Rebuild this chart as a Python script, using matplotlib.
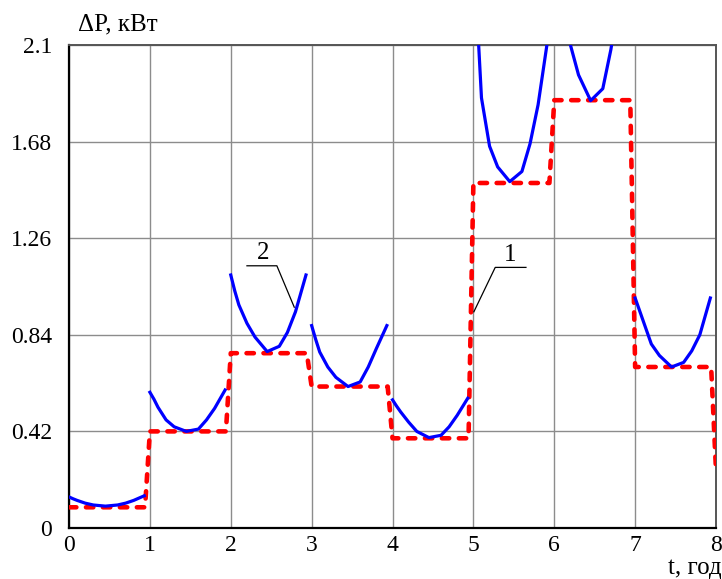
import matplotlib.pyplot as plt

# hourly levels of the step curve (1), kW
hours = [0, 1, 2, 3, 4, 5, 6, 7]
red_levels = [0.09, 0.42, 0.76, 0.615, 0.39, 1.50, 1.86, 0.70]
red_end = 0.25

# curve (2): samples inside each hour (offset from the hour start, h)
blue_offsets = [0, 0.05, 0.10, 0.20, 0.30, 0.45, 0.60, 0.70, 0.80, 0.93]
blue_h0 = [0.135, 0.127, 0.12, 0.108, 0.10, 0.095, 0.10, 0.108, 0.12, 0.14]
blue_h1 = [0.59, 0.56, 0.525, 0.47, 0.44, 0.42, 0.43, 0.47, 0.52, 0.60]
blue_h2 = [1.10, 1.03, 0.97, 0.89, 0.83, 0.767, 0.79, 0.85, 0.94, 1.10]
blue_h3 = [0.88, 0.82, 0.765, 0.70, 0.655, 0.615, 0.635, 0.70, 0.78, 0.88]
blue_h4 = [0.557, 0.53, 0.505, 0.46, 0.42, 0.393, 0.403, 0.44, 0.49, 0.564]
blue_h5 = [2.48, 2.20, 1.87, 1.66, 1.57, 1.506, 1.55, 1.67, 1.84, 2.15]
blue_h6 = [2.60, 2.50, 2.38, 2.10, 1.97, 1.858, 1.91, 2.08, 2.30, 2.60]
blue_h7 = [1.00, 0.95, 0.90, 0.80, 0.75, 0.70, 0.72, 0.77, 0.84, 1.00]
blue_hours = [blue_h0, blue_h1, blue_h2, blue_h3, blue_h4, blue_h5, blue_h6, blue_h7]

yticks = [0, 0.42, 0.84, 1.26, 1.68, 2.1]
yticklabels = ['0', '0.42', '0.84', '1.26', '1.68', '2.1']

plt.rcParams['font.family'] = ['Liberation Serif', 'DejaVu Serif']

fig = plt.figure(figsize=(7.22, 5.79), dpi=100)
ax = fig.add_axes([0.0956, 0.0881, 0.8961, 0.8342])

# step curve: hold each level, then a short ramp to the next one
red_t, red_p = [], []
for h, lev in zip(hours, red_levels):
    red_t += [h, h + 0.94]
    red_p += [lev, lev]
red_t.append(hours[-1] + 1)
red_p.append(red_end)
ax.plot(red_t, red_p, color='#ff0000', lw=3.3, dashes=(1.6, 2.1),
        dash_capstyle='round', dash_joinstyle='round', zorder=3)

for h, vals in zip(hours, blue_hours):
    ax.plot([h + o for o in blue_offsets], vals, color='#0000ff', lw=2.3,
            solid_joinstyle='round', zorder=4)

# curve labels with leader lines
ax.plot([2.2, 2.57, 2.785], [1.14, 1.14, 0.96], color='black', lw=0.9, zorder=5)
ax.text(2.40, 1.148, '2', fontsize=18, ha='center', va='bottom')
ax.plot([5.65, 5.27, 5.006], [1.133, 1.133, 0.94], color='black', lw=0.9, zorder=5)
ax.text(5.46, 1.141, '1', fontsize=18, ha='center', va='bottom')

ax.set_xlim(0, 8)
ax.set_ylim(0, 2.1)
ax.set_xticks(range(0, 9))
ax.set_yticks(yticks)
ax.set_yticklabels(yticklabels)
ax.tick_params(length=0, labelsize=17)
ax.tick_params(axis='y', pad=12)
ax.tick_params(axis='x', pad=5)
ax.grid(True, color='#8c8c8c', lw=1.0)
ax.set_axisbelow(True)

for side in ['left', 'bottom']:
    ax.spines[side].set_color('black')
    ax.spines[side].set_linewidth(1.6)
for side in ['top', 'right']:
    ax.spines[side].set_color('#555555')
    ax.spines[side].set_linewidth(1.4)

fig.text(0.108, 0.957, 'ΔP, кВт', fontsize=18, ha='left', va='center')
fig.text(0.999, 0.0, 't, год', fontsize=18, ha='right', va='bottom')

fig.savefig('out.png', dpi=100)
